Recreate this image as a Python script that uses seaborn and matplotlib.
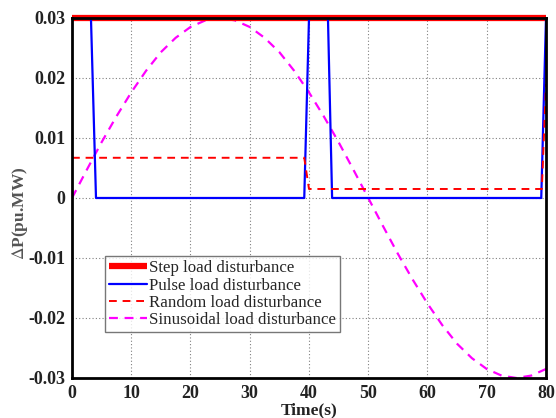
import matplotlib
matplotlib.use("Agg")
import matplotlib.pyplot as plt
import seaborn as sns

# Step load disturbance
step_t = [0, 80]
step_p = [0.03, 0.03]

# Pulse load disturbance (corner points)
pulse_t = [0, 3.2, 4.05, 39.2, 40.0, 43.2, 43.9, 79.2, 80]
pulse_p = [0.03, 0.03, 0.0, 0.0, 0.03, 0.03, 0.0, 0.0, 0.03]

# Random load disturbance (corner points)
random_t = [0, 39.2, 40.0, 79.3, 80]
random_p = [0.0067, 0.0067, 0.0015, 0.0015, 0.019]

# Sinusoidal load disturbance (samples every 2.5 s)
sin_t = [0, 2.5, 5, 7.5, 10, 12.5, 15, 17.5, 20, 22.5, 25, 27.5, 30, 32.5,
         35, 37.5, 40, 42.5, 45, 47.5, 50, 52.5, 55, 57.5, 60, 62.5, 65,
         67.5, 70, 72.5, 75, 77.5, 80]
sin_p = [0.0, 0.0047, 0.0093, 0.0136, 0.0176, 0.0212, 0.0243, 0.0267,
         0.0285, 0.0296, 0.0300, 0.0296, 0.0285, 0.0267, 0.0243, 0.0212,
         0.0176, 0.0136, 0.0093, 0.0047, 0.0, -0.0047, -0.0093, -0.0136,
         -0.0176, -0.0212, -0.0243, -0.0267, -0.0285, -0.0296, -0.0300,
         -0.0296, -0.0285]

x_ticks = [0, 10, 20, 30, 40, 50, 60, 70, 80]
y_ticks = [-0.03, -0.02, -0.01, 0, 0.01, 0.02, 0.03]
y_ticklabels = ["-0.03", "-0.02", "-0.01", "0", "0.01", "0.02", "0.03"]

sns.set_theme(style="white")
plt.rcParams["font.family"] = ["Liberation Serif", "DejaVu Serif"]
plt.rcParams["mathtext.fontset"] = "stix"

fig = plt.figure(figsize=(5.56, 4.18), dpi=100)
ax = fig.add_axes([0.1295, 0.0957, 0.8525, 0.8613])

sns.lineplot(x=step_t, y=step_p, ax=ax, color="#ff0000", linewidth=4.5,
             label="Step load disturbance", clip_on=False, zorder=3,
             solid_capstyle="butt")
sns.lineplot(x=pulse_t, y=pulse_p, ax=ax, color="#0000ff", linewidth=1.6,
             label="Pulse load disturbance", zorder=4, sort=False)
sns.lineplot(x=random_t, y=random_p, ax=ax, color="#ff0000", linewidth=1.4,
             linestyle=(0, (4, 3)), label="Random load disturbance",
             zorder=5, sort=False)
sns.lineplot(x=sin_t, y=sin_p, ax=ax, color="#ff00ff", linewidth=1.6,
             linestyle=(0, (4, 3)), label="Sinusoidal load disturbance",
             zorder=2)

ax.set_xlim(0, 80)
ax.set_ylim(-0.03, 0.03)
ax.set_xticks(x_ticks)
ax.set_xticklabels([str(t) for t in x_ticks])
ax.set_yticks(y_ticks)
ax.set_yticklabels(y_ticklabels)

ax.grid(True, linestyle=(0, (1, 2)), color="#808080", linewidth=0.8)
ax.tick_params(direction="in", length=3, width=0.8, colors="black",
               labelsize=13, pad=5)
for lbl in ax.get_xticklabels() + ax.get_yticklabels():
    lbl.set_fontweight("bold")
    lbl.set_color("#222222")
for sp in ax.spines.values():
    sp.set_visible(True)
    sp.set_color("black")
    sp.set_linewidth(2)
    sp.set_zorder(6)

ax.set_xlabel("Time(s)", fontsize=12.5, fontweight="bold", color="#222222",
              labelpad=0)
ax.set_ylabel(r"$\Delta$P(pu.MW)", fontsize=12.5, fontweight="bold",
              color="#555555", va="center")
ax.yaxis.set_label_coords(-0.11, 0.458)

leg = ax.legend(loc="upper left", bbox_to_anchor=(0.0696, 0.339),
                borderaxespad=0, fontsize=12.2, frameon=True, fancybox=False,
                edgecolor="#555555", handlelength=2.2, handletextpad=0.12,
                labelspacing=0.08, borderpad=0.25)
leg.get_frame().set_linewidth(1.0)
leg.get_frame().set_facecolor("white")
leg.set_zorder(10)

fig.savefig("out.png", dpi=100)
